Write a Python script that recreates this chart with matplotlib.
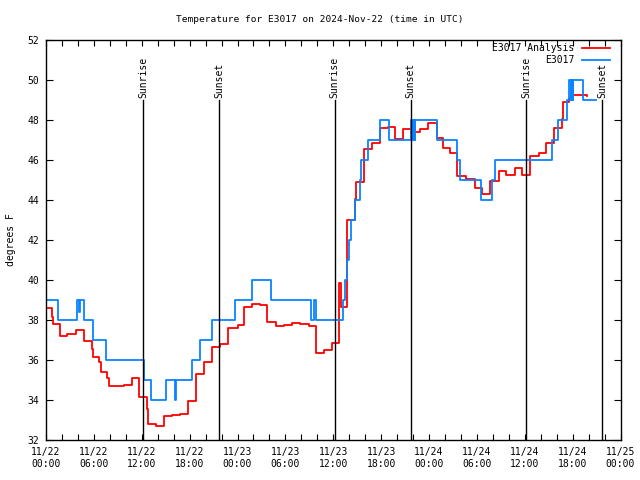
import matplotlib
matplotlib.use("Agg")
import matplotlib.pyplot as plt
import matplotlib.dates as mdates
import pandas as pd

plt.rcParams['font.family'] = ['DejaVu Sans Mono']

start = pd.Timestamp("2024-11-22 00:00")

# E3017 Analysis (hours since start, degF), step series
ana_hours = [0, 0.7, 0.83, 1.75, 2.67, 3.76, 4.76, 5.72, 5.85, 6.7, 6.85, 7.7, 7.9,
             9.8, 10.8, 11.7, 12.65, 12.8, 13.8, 14.8, 15.8, 16.8, 17.8, 18.8, 19.75,
             20.8, 21.8, 22.8, 24.0, 24.8, 25.8, 26.8, 27.7, 28.8, 29.8, 30.8, 31.8,
             32.9, 33.8, 34.8, 35.8, 36.76, 36.93, 37.75, 38.7, 38.8, 39.8, 39.85,
             40.8, 41.85, 42.9, 43.7, 43.8, 44.8, 45.8, 46.9, 47.9, 48.95, 49.8, 50.6,
             51.55, 52.6, 53.75, 54.6, 55.7, 56.8, 57.7, 58.8, 59.7, 60.7, 61.8, 62.7,
             63.7, 64.7, 64.85, 65.5, 66.1, 67.75]
ana_temp = [38.58, 38.17, 37.78, 37.2, 37.28, 37.48, 36.93, 36.55, 36.13, 35.92, 35.42, 35.08, 34.68,
            34.73, 35.08, 34.17, 33.53, 32.78, 32.68, 33.18, 33.23, 33.28, 33.93, 35.28, 35.88,
            36.63, 36.78, 37.58, 37.75, 38.63, 38.82, 38.75, 37.92, 37.7, 37.75, 37.83, 37.78,
            37.7, 36.33, 36.5, 36.83, 39.83, 38.67, 43.0, 44.03, 44.88, 46.03, 46.53,
            46.83, 47.58, 47.63, 47.33, 47.03, 47.53, 47.42, 47.53, 47.87, 47.08, 46.58, 46.37,
            45.2, 45.03, 44.58, 44.3, 44.97, 45.47, 45.25, 45.58, 45.25, 46.2, 46.33, 46.83,
            47.58, 48.03, 48.92, 49.08, 49.23, 49.2]

# E3017 observations
obs_hours = [0, 1.55, 3.9, 4.15, 4.3, 4.7, 5.9, 7.5, 12.3, 13.2, 15.1, 16.2, 16.35,
             18.3, 19.25, 20.8, 23.7, 25.85, 28.15, 33.2, 33.6, 33.9, 37.25, 37.5,
             37.75, 38.0, 38.25, 38.75, 39.3, 39.5, 40.3, 41.9, 43.0, 45.8, 45.9, 45.95,
             46.1, 46.15, 46.25, 46.3, 49.0, 51.5, 51.9, 54.5, 55.85, 56.3, 63.45, 64.2,
             65.3, 65.6, 65.8, 65.85, 66.05, 66.1, 67.35, 68.9]
obs_temp = [39, 38, 39, 38.4, 39, 38, 37, 36, 35, 34, 35, 34, 35,
            36, 37, 38, 39, 40, 39, 38, 39, 38, 39, 40,
            41, 42, 43, 44, 45, 46, 47, 48, 47, 48, 47, 48,
            47, 48, 47, 48, 47, 46, 45, 44, 45, 46, 47, 48,
            49, 50, 49, 50, 49, 50, 49, 49]

sunrise = ["2024-11-22 12:11", "2024-11-23 12:12", "2024-11-24 12:13"]
sunset = ["2024-11-22 21:43", "2024-11-23 21:43", "2024-11-24 21:42"]

ana_t = start + pd.to_timedelta(ana_hours, unit="h")
obs_t = start + pd.to_timedelta(obs_hours, unit="h")

fig = plt.figure(figsize=(6.4, 4.8), dpi=100)
ax = fig.add_axes([46/640, 40/480, 574.5/640, 400/480])

ax.plot(ana_t, ana_temp, drawstyle="steps-post", color="#ff0000", lw=1.3, label="E3017 Analysis")
ax.plot(obs_t, obs_temp, drawstyle="steps-post", color="#0a84ff", lw=1.3, label="E3017")

for s in sunrise:
    t = pd.Timestamp(s)
    ax.plot([t, t], [32, 49.0], color="black", lw=1.0)
    ax.text(t, 49.1, "Sunrise", rotation=90, ha="center", va="bottom", fontsize=7)
for s in sunset:
    t = pd.Timestamp(s)
    ax.plot([t, t], [32, 49.0], color="black", lw=1.0)
    ax.text(t, 49.1, "Sunset", rotation=90, ha="center", va="bottom", fontsize=7)

ax.set_xlim(start, start + pd.Timedelta(hours=72))
ax.set_ylim(32, 52)
ax.set_yticks(range(32, 53, 2))
ax.xaxis.set_major_locator(mdates.HourLocator(byhour=[0, 6, 12, 18]))
ax.xaxis.set_minor_locator(mdates.HourLocator(byhour=range(0, 24, 2)))
ax.xaxis.set_major_formatter(mdates.DateFormatter("%m/%d\n%H:%M"))
ax.tick_params(axis="both", which="both", direction="in", top=True, right=True,
               labelsize=7, width=0.8)
ax.tick_params(axis="x", which="major", length=4, pad=5)
ax.tick_params(axis="x", which="minor", length=4)
ax.tick_params(axis="y", which="major", length=5, pad=5)
for sp in ax.spines.values():
    sp.set_linewidth(1.0)

ax.set_ylabel("degrees F", fontsize=7, labelpad=8)
fig.text(0.5, 1 - 20/480, "Temperature for E3017 on 2024-Nov-22 (time in UTC)",
         ha="center", va="center", fontsize=6.8)

leg = ax.legend(loc="upper right", bbox_to_anchor=((610-46)/574.5, (440-43)/400),
                frameon=False, markerfirst=False, fontsize=7, handlelength=2.9,
                handletextpad=0.8, labelspacing=0.2, borderpad=0, borderaxespad=0)

fig.savefig("out.png", dpi=100)
